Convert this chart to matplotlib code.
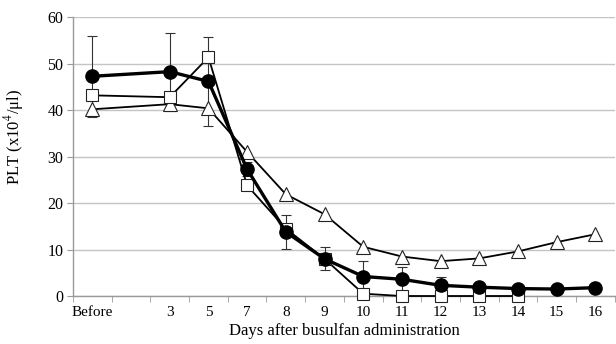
import numpy as np
import matplotlib
matplotlib.use("Agg")
import matplotlib.pyplot as plt

categories = ["Before", "", "3", "5", "7", "8", "9", "10", "11", "12", "13", "14", "15", "16"]

circle_days = ["Before", "3", "5", "7", "8", "9", "10", "11", "12", "13", "14", "15", "16"]
circle_vals = [47.3, 48.3, 46.2, 27.3, 13.8, 8.0, 4.2, 3.6, 2.3, 1.9, 1.6, 1.5, 1.8]
circle_err = [8.7, 8.4, 9.6, 1.5, 3.6, 2.5, 3.3, 2.7, 1.7, 0.4, 0.4, 0.4, 0.4]

square_days = ["Before", "3", "5", "7", "8", "9", "10", "11", "12", "13", "14"]
square_vals = [43.2, 42.8, 51.4, 23.8, 14.5, 8.0, 0.5, 0.0, 0.0, 0.0, 0.0]

tri_days = ["Before", "3", "5", "7", "8", "9", "10", "11", "12", "13", "14", "15", "16"]
tri_vals = [40.2, 41.3, 40.4, 31.0, 21.9, 17.6, 10.6, 8.5, 7.5, 8.1, 9.6, 11.6, 13.3]

yticks = [0, 10, 20, 30, 40, 50, 60]

def pos(days):
    return [categories.index(d) for d in days]

plt.rcParams['font.family'] = ['Liberation Serif', 'DejaVu Serif']
plt.rcParams['mathtext.fontset'] = 'stix'

fig = plt.figure(figsize=(6.16, 3.44), dpi=100)
ax = fig.add_axes([0.1185, 0.1395, 0.998 - 0.1185, 0.9497 - 0.1395])

ax.set_xlim(-0.5, len(categories) - 0.5)
ax.set_ylim(0, 60)
ax.set_yticks(yticks)
ax.yaxis.grid(True, color='#c4c4c4', linewidth=1.0)
ax.set_axisbelow(True)

ax.errorbar(pos(circle_days), circle_vals, yerr=circle_err, fmt='none',
            ecolor='#333333', elinewidth=0.8, capsize=3.5, capthick=0.8, zorder=2)

ax.plot(pos(tri_days), tri_vals, color='black', linewidth=1.3, marker='^',
        markersize=10, markerfacecolor='white', markeredgecolor='#222222',
        markeredgewidth=0.8, zorder=3, clip_on=False)
ax.plot(pos(square_days), square_vals, color='black', linewidth=1.3, marker='s',
        markersize=8.5, markerfacecolor='white', markeredgecolor='#222222',
        markeredgewidth=0.8, zorder=4, clip_on=False)
ax.plot(pos(circle_days), circle_vals, color='black', linewidth=2.4, marker='o',
        markersize=9.5, markerfacecolor='black', markeredgecolor='black', zorder=5,
        clip_on=False)

ax.set_xticks(range(len(categories)))
ax.set_xticklabels(categories, fontsize=11)
ax.tick_params(axis='x', which='major', length=0, pad=7)
ax.set_xticks(np.arange(-0.5, len(categories), 1.0), minor=True)
ax.tick_params(axis='x', which='minor', length=4, color='#999999', direction='out')
ax.tick_params(axis='y', which='major', length=4, color='#999999', labelsize=11.5, pad=3)

for s in ['top', 'right']:
    ax.spines[s].set_visible(False)
for s in ['left', 'bottom']:
    ax.spines[s].set_color('#999999')
    ax.spines[s].set_linewidth(1.0)

ax.set_xlabel("Days after busulfan administration", fontsize=12, labelpad=3)
fig.text(14 / 616, 1 - 137 / 344, "PLT (x10$^{4}$/\u03bcl)", fontsize=12,
         rotation=90, ha='center', va='center')

fig.savefig("out.png", dpi=100)
